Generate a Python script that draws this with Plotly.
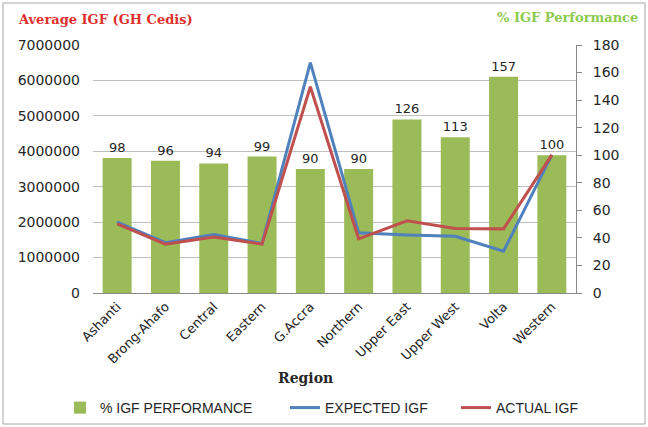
import plotly.graph_objects as go

regions = ["Ashanti", "Brong-Ahafo", "Central", "Eastern", "G.Accra", "Northern",
           "Upper East", "Upper West", "Volta", "Western"]
performance = [98, 96, 94, 99, 90, 90, 126, 113, 157, 100]
expected_igf = [2000000, 1420000, 1650000, 1400000, 6500000, 1700000, 1640000, 1600000, 1180000, 3900000]
actual_igf = [1950000, 1380000, 1580000, 1380000, 5820000, 1530000, 2040000, 1820000, 1810000, 3900000]

W, H = 648, 427
L, R, T, B = 93, 72, 45, 134
pw, ph = W - L - R, H - T - B

def px(x):
    return (x - L) / pw

def py(y):
    return (H - B - y) / ph

fig = go.Figure()
fig.add_trace(go.Bar(
    x=regions, y=performance, name="% IGF PERFORMANCE",
    marker=dict(color="#9BBB59", line=dict(width=0)),
    text=performance, textposition="outside", cliponaxis=False,
    textfont=dict(family="DejaVu Sans", size=13, color="#262626"),
    yaxis="y", legend="legend",
))
fig.add_trace(go.Scatter(
    x=regions, y=expected_igf, name="EXPECTED IGF", mode="lines",
    line=dict(color="#4F81BD", width=3), yaxis="y2", legend="legend2",
))
fig.add_trace(go.Scatter(
    x=regions, y=actual_igf, name="ACTUAL IGF", mode="lines",
    line=dict(color="#C0504D", width=3), yaxis="y2", legend="legend3",
))

tickfont = dict(family="DejaVu Sans", size=14, color="#262626")
xtickfont = dict(family="DejaVu Sans", size=13, color="#262626")
legfont = dict(family="Liberation Sans", size=14, color="#262626")

def leg(x):
    return dict(orientation="h", x=px(x), xanchor="left", y=py(408), yanchor="middle",
                font=legfont, bgcolor="rgba(0,0,0,0)", itemwidth=30)

fig.update_layout(
    width=W, height=H,
    margin=dict(l=L, r=R, t=T, b=B, autoexpand=False),
    paper_bgcolor="white", plot_bgcolor="white",
    bargap=0.4,
    showlegend=True,
    legend=leg(60),
    legend2=leg(285),
    legend3=leg(456),
    xaxis=dict(tickangle=-45, tickfont=xtickfont, showline=True, linecolor="#898989",
               linewidth=1, ticks="", showgrid=False),
    yaxis=dict(side="right", range=[0, 180], dtick=20, tickfont=tickfont,
               showline=True, linecolor="#898989", linewidth=1, ticks="outside",
               ticklen=5, tickcolor="#898989", showgrid=False, zeroline=False,
               ticklabelstandoff=8),
    yaxis2=dict(side="left", overlaying="y", range=[0, 7000000], dtick=1000000,
                tickformat="d", tickfont=tickfont, showline=False, ticks="",
                showgrid=True, gridcolor="#BFBFBF", ticklabelstandoff=12,
                gridwidth=1, zeroline=False),
    shapes=[dict(type="rect", xref="paper", yref="paper",
                 x0=px(3), x1=px(645), y0=py(424), y1=py(3),
                 line=dict(color="#A6A6A6", width=1), fillcolor="rgba(0,0,0,0)")],
    annotations=[
        dict(text="<b>Average IGF (GH Cedis)</b>", xref="paper", yref="paper",
             x=px(16), y=py(20), xanchor="left", yanchor="middle", showarrow=False,
             font=dict(family="DejaVu Serif", size=13, color="#E0302D")),
        dict(text="<b>% IGF Performance</b>", xref="paper", yref="paper",
             x=px(640), y=py(18), xanchor="right", yanchor="middle", showarrow=False,
             font=dict(family="DejaVu Serif", size=13, color="#8CCB4E")),
        dict(text="<b>Region</b>", xref="paper", yref="paper",
             x=px(305), y=py(378), xanchor="center", yanchor="middle", showarrow=False,
             font=dict(family="DejaVu Serif", size=14, color="#262626")),
    ],
)

fig.write_html("out.html")
